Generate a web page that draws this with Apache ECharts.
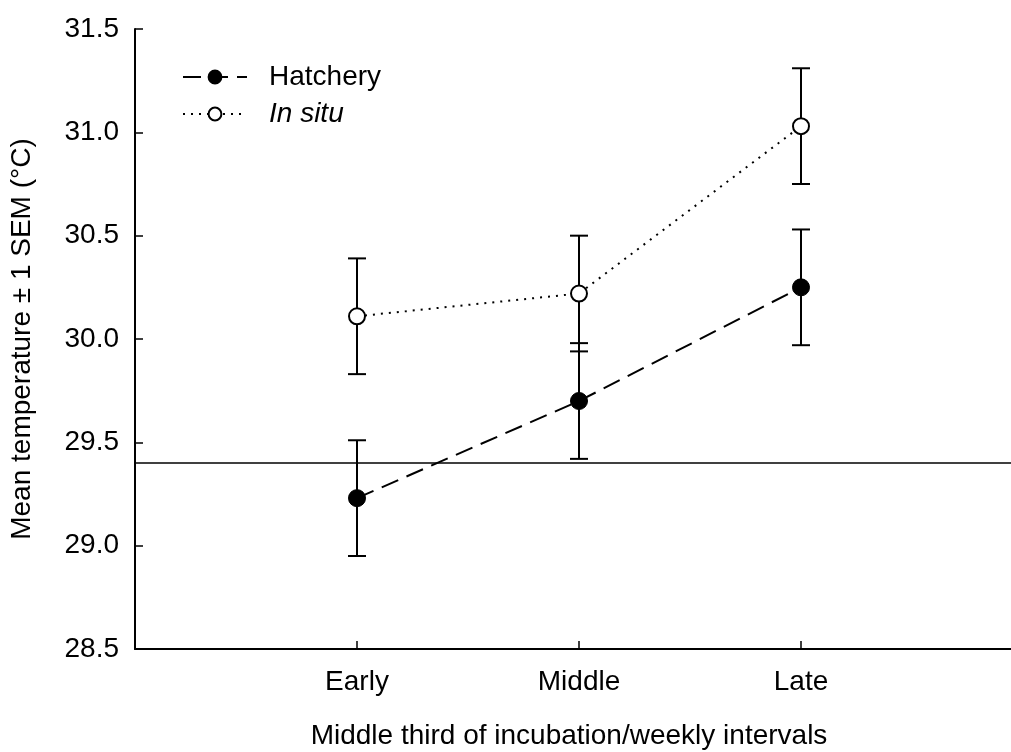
<!DOCTYPE html>
<html>
<head>
<meta charset="utf-8">
<script src="https://cdn.jsdelivr.net/npm/echarts@6/dist/echarts.min.js"></script>
<style>
  html, body { margin: 0; padding: 0; background: #fff; }
  #chart { width: 1011px; height: 752px; }
</style>
</head>
<body>
<div id="chart"></div>
<script>
// Incubation phases (x positions 1..3 on a 0..4 axis)
const categories = ['Early', 'Middle', 'Late'];
// Mean temperature (°C) and ±1 SEM per phase
const hatcheryMean = [29.23, 29.70, 30.25];
const hatcherySem  = [0.28, 0.28, 0.28];
const inSituMean   = [30.11, 30.22, 31.03];
const inSituSem    = [0.28, 0.28, 0.28];
// Reference temperature line
const referenceTemp = 29.4;
// Y-axis tick range
const yMin = 28.5, yMax = 31.5, yStep = 0.5;

const FONT = '"Liberation Sans", Arial, Helvetica, sans-serif';
const FS = 28;

function points(means) {
  return means.map((v, i) => [i + 1, v]);
}
function bars(means, sems) {
  return means.map((v, i) => [i + 1, v - sems[i], v + sems[i]]);
}

function errorBarItem(params, api) {
  const x = api.value(0);
  const lo = api.coord([x, api.value(1)]);
  const hi = api.coord([x, api.value(2)]);
  const half = 9;
  const style = { stroke: '#000', lineWidth: 2 };
  return {
    type: 'group',
    children: [
      { type: 'line', shape: { x1: lo[0], y1: lo[1], x2: hi[0], y2: hi[1] }, style },
      { type: 'line', shape: { x1: lo[0] - half, y1: lo[1], x2: lo[0] + half, y2: lo[1] }, style },
      { type: 'line', shape: { x1: hi[0] - half, y1: hi[1], x2: hi[0] + half, y2: hi[1] }, style }
    ]
  };
}

const chart = echarts.init(document.getElementById('chart'), null, { renderer: 'canvas' });

chart.setOption({
  animation: false,
  backgroundColor: '#fff',
  textStyle: { fontFamily: FONT, color: '#000' },
  // plot runs past the right edge of the canvas
  grid: {
    left: 135, top: 29, width: 888, height: 620,
    containLabel: false,
    outerBoundsMode: 'none'
  },
  legend: {
    orient: 'vertical',
    left: 177,
    top: 58,
    itemWidth: 64,
    itemHeight: 16,
    itemGap: 9,
    data: ['Hatchery', 'In situ'],
    formatter: name => name === 'In situ' ? '{it|In situ}' : name,
    textStyle: {
      fontFamily: FONT, fontSize: FS, color: '#000', lineHeight: 28,
      padding: [0, 0, 0, 17],
      rich: { it: { fontFamily: FONT, fontSize: FS, fontStyle: 'italic', color: '#000' } }
    }
  },
  graphic: [{
    type: 'text',
    x: 569,
    y: 722,
    style: {
      text: 'Middle third of incubation/weekly intervals',
      font: FS + 'px ' + FONT,
      fill: '#000',
      textAlign: 'center'
    }
  }],
  xAxis: {
    type: 'value',
    min: 0,
    max: 4,
    interval: 1,
    splitLine: { show: false },
    axisLine: { show: true, lineStyle: { color: '#000', width: 2 } },
    axisTick: { show: true, inside: true, length: 8, lineStyle: { color: '#000', width: 1.5 } },
    axisLabel: {
      margin: 19,
      fontFamily: FONT, fontSize: FS, color: '#000',
      formatter: v => categories[v - 1] || ''
    }
  },
  yAxis: {
    type: 'value',
    min: yMin,
    max: yMax,
    interval: yStep,
    name: 'Mean temperature \u00b1 1 SEM (\u00b0C)',
    nameLocation: 'middle',
    nameGap: 99,
    nameTextStyle: { fontFamily: FONT, fontSize: FS, color: '#000' },
    splitLine: { show: false },
    axisLine: { show: true, lineStyle: { color: '#000', width: 2 } },
    axisTick: { show: true, inside: true, length: 8, lineStyle: { color: '#000', width: 1.5 } },
    axisLabel: {
      margin: 16,
      fontFamily: FONT, fontSize: FS, color: '#000',
      formatter: v => v.toFixed(1)
    }
  },
  series: [
    {
      name: 'Hatchery SEM',
      type: 'custom',
      renderItem: errorBarItem,
      data: bars(hatcheryMean, hatcherySem),
      z: 1,
      silent: true
    },
    {
      name: 'In situ SEM',
      type: 'custom',
      renderItem: errorBarItem,
      data: bars(inSituMean, inSituSem),
      z: 1,
      silent: true
    },
    {
      name: 'Hatchery',
      type: 'line',
      data: points(hatcheryMean),
      symbol: 'circle',
      symbolSize: 17,
      itemStyle: { color: '#000', borderColor: '#000', borderWidth: 1 },
      lineStyle: { color: '#000', width: 2, type: [18, 9] },
      z: 3,
      markLine: {
        silent: true,
        symbol: 'none',
        label: { show: false },
        lineStyle: { color: '#000', width: 1.5, type: 'solid' },
        data: [{ yAxis: referenceTemp }]
      }
    },
    {
      name: 'In situ',
      type: 'line',
      data: points(inSituMean),
      symbol: 'circle',
      symbolSize: 16,
      itemStyle: { color: '#fff', borderColor: '#000', borderWidth: 2 },
      lineStyle: { color: '#000', width: 2, type: [2, 6] },
      z: 3
    }
  ]
});
</script>
</body>
</html>
